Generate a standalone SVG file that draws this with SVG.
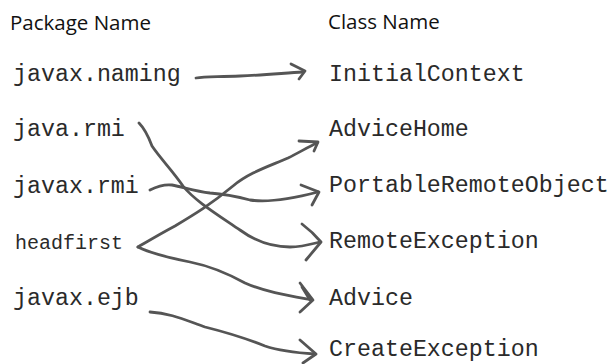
<svg xmlns="http://www.w3.org/2000/svg" width="613" height="364" viewBox="0 0 613 364">
<style>
.hdr{font-family:"Open Sans","Liberation Sans",sans-serif;font-size:20.5px;fill:#111}
.mono{font-family:"Liberation Mono","Courier New",monospace;font-size:23.3px;fill:#2a2a2a}
.c{fill:none;stroke:#555;stroke-width:2.8;stroke-linecap:round;stroke-linejoin:round}
</style>
<rect width="613" height="364" fill="#fff"/>
<g id="headers">
<text class="hdr" x="10" y="30">Package Name</text>
<text class="hdr" x="328" y="29">Class Name</text>
</g>
<g id="pkg-javax-naming"><text class="mono" x="13" y="81">javax.naming</text></g>
<g id="pkg-java-rmi"><text class="mono" x="13" y="136">java.rmi</text></g>
<g id="pkg-javax-rmi"><text class="mono" x="13" y="193">javax.rmi</text></g>
<g id="pkg-headfirst"><text class="mono" x="15" y="249" style="font-size:20px">headfirst</text></g>
<g id="pkg-javax-ejb"><text class="mono" x="13" y="305">javax.ejb</text></g>
<g id="cls-InitialContext"><text class="mono" x="329" y="81">InitialContext</text></g>
<g id="cls-AdviceHome"><text class="mono" x="329" y="136">AdviceHome</text></g>
<g id="cls-PortableRemoteObject"><text class="mono" x="329" y="192">PortableRemoteObject</text></g>
<g id="cls-RemoteException"><text class="mono" x="329" y="248">RemoteException</text></g>
<g id="cls-Advice"><text class="mono" x="329" y="305">Advice</text></g>
<g id="cls-CreateException"><text class="mono" x="329" y="356">CreateException</text></g>
<g id="connectors">
<path class="c" d="M196,78 C205,76 215,77 240,76 C265,75 285,73 303,72"/>
<path class="c" d="M291,64 L305,71 L299,79"/>
<path class="c" d="M139,123 C146,130 149,138 152,146 C160,158 172,170 183,186 C194,200 215,213 240,230 C255,241 270,247 290,247 C302,247 312,244 320,242"/>
<path class="c" d="M302,224 C310,230 316,236 321,242 L306,260"/>
<path class="c" d="M150,190 C156,187 164,184 172,185 C183,187 195,191 210,193 C225,194 235,196 250,200 C270,203 295,198 318,192"/>
<path class="c" d="M301,185 L319,192 L312,205"/>
<path class="c" d="M138,247 C150,240 160,234 175,226 C195,214 210,205 233,186 C250,172 270,166 288,158 C300,152 310,146 317,143"/>
<path class="c" d="M299,141 L318,142 L314,151"/>
<path class="c" d="M138,247 C150,253 165,257 190,262 C210,266 225,272 245,283 C265,292 290,296 312,300"/>
<path class="c" d="M300,283 L313,300 L300,312"/>
<path class="c" d="M302,287 L310,300"/>
<path class="c" d="M150,312 C170,313 185,320 205,327 C225,332 245,338 265,346 C280,351 300,353 315,354"/>
<path class="c" d="M300,340 L316,354 L303,363"/>
</g>
</svg>
